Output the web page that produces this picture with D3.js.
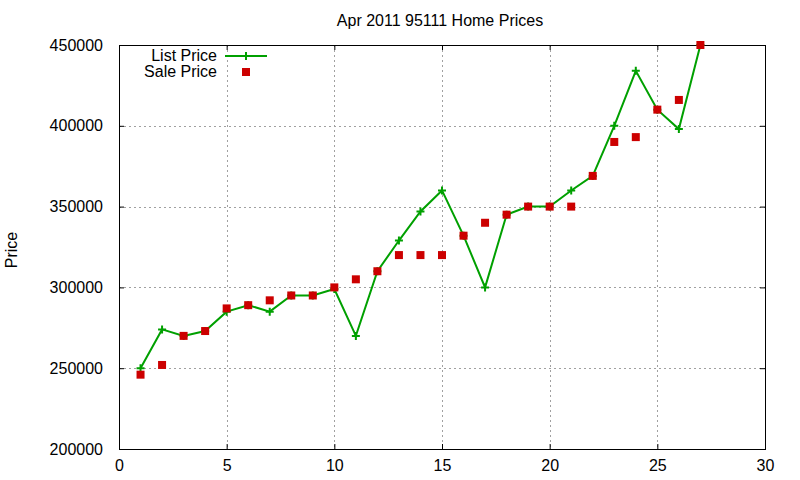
<!DOCTYPE html>
<html>
<head>
<meta charset="utf-8">
<script src="https://cdn.jsdelivr.net/npm/d3@7"></script>
<style>
  body { margin: 0; background: #fff; }
  text { font-family: "Liberation Sans", Arial, sans-serif; fill: #000; }
</style>
</head>
<body>
<div id="chart"></div>
<script>
// data
const days = [1, 2, 3, 4, 5, 6, 7, 8, 9, 10, 11, 12, 13, 14, 15, 16, 17, 18, 19, 20, 21, 22, 23, 24, 25, 26, 27];
const listPrice = [250000, 274000, 270000, 273000, 285000, 289000, 285000, 295000, 295000, 299000,
    270000, 310000, 329000, 347000, 360000, 332000, 300000, 345000, 350000, 350000,
    360000, 369000, 400000, 434000, 410000, 398000, 450000];
const salePrice = [246000, 252000, 270000, 273000, 287000, 289000, 292000, 295000, 295000, 300000,
    305000, 310000, 320000, 320000, 320000, 332000, 340000, 345000, 350000, 350000,
    350000, 369000, 390000, 393000, 410000, 416000, 450000];
const xTicks = [0, 5, 10, 15, 20, 25, 30];
const yTicks = [200000, 250000, 300000, 350000, 400000, 450000];

const W = 800, H = 480;
const margin = {left: 119, right: 35, top: 45, bottom: 31};

const svg = d3.select('#chart')
    .append('svg')
    .attr('width', W)
    .attr('height', H);

const x = d3.scaleLinear().domain([0, 30]).range([margin.left, W - margin.right]);
const y = d3.scaleLinear().domain([200000, 450000]).range([H - margin.bottom, margin.top]);

// grid
const grid = svg.append('g')
    .attr('stroke', '#a0a0a0')
    .attr('stroke-width', 1)
    .attr('stroke-dasharray', '2,3');
grid.selectAll('.gx')
    .data(xTicks.slice(1, -1))
    .join('line')
    .attr('x1', d => Math.round(x(d)) + 0.5)
    .attr('x2', d => Math.round(x(d)) + 0.5)
    .attr('y1', margin.top)
    .attr('y2', H - margin.bottom);
grid.selectAll('.gy')
    .data(yTicks.slice(1, -1))
    .join('line')
    .attr('x1', margin.left)
    .attr('x2', W - margin.right)
    .attr('y1', d => Math.round(y(d)) + 0.5)
    .attr('y2', d => Math.round(y(d)) + 0.5);

// axes, ticks inward and mirrored
const tickLen = -5;
svg.append('g')
    .attr('transform', `translate(0,${H - margin.bottom})`)
    .call(d3.axisBottom(x).tickValues(xTicks).tickSizeInner(tickLen).tickSizeOuter(0).tickPadding(11));
svg.append('g')
    .attr('transform', `translate(0,${margin.top})`)
    .call(d3.axisTop(x).tickValues(xTicks).tickSizeInner(tickLen).tickSizeOuter(0).tickFormat(''));
svg.append('g')
    .attr('transform', `translate(${margin.left},0)`)
    .call(d3.axisLeft(y).tickValues(yTicks).tickSizeInner(tickLen).tickSizeOuter(0).tickPadding(16).tickFormat(d3.format('d')));
svg.append('g')
    .attr('transform', `translate(${W - margin.right},0)`)
    .call(d3.axisRight(y).tickValues(yTicks).tickSizeInner(tickLen).tickSizeOuter(0).tickFormat(''));

svg.selectAll('.domain').remove();
svg.selectAll('.tick line').attr('stroke', '#000');
svg.selectAll('.tick text').attr('font-size', 16).attr('font-family', '"Liberation Sans", Arial, sans-serif');

svg.append('rect')
    .attr('x', margin.left + 0.5)
    .attr('y', margin.top + 0.5)
    .attr('width', W - margin.left - margin.right)
    .attr('height', H - margin.top - margin.bottom)
    .attr('fill', 'none')
    .attr('stroke', '#000')
    .attr('stroke-width', 1);

// list price line
const green = '#00a000', red = '#cc0000';
const listData = days.map((d, i) => [d, listPrice[i]]);
const saleData = days.map((d, i) => [d, salePrice[i]]);

svg.append('path')
    .datum(listData)
    .attr('fill', 'none')
    .attr('stroke', green)
    .attr('stroke-width', 2)
    .attr('d', d3.line().x(d => x(d[0])).y(d => y(d[1])));

const plus = (px, py) => `M${px - 4},${py}H${px + 4}M${px},${py - 4}V${py + 4}`;
svg.append('g')
    .selectAll('path')
    .data(listData)
    .join('path')
    .attr('stroke', green)
    .attr('stroke-width', 2)
    .attr('d', d => plus(x(d[0]), y(d[1])));

svg.append('g')
    .selectAll('rect')
    .data(saleData)
    .join('rect')
    .attr('fill', red)
    .attr('x', d => x(d[0]) - 4)
    .attr('y', d => y(d[1]) - 4)
    .attr('width', 8)
    .attr('height', 8);

// legend
const leg = svg.append('g');
leg.append('text').attr('x', 217).attr('y', 61).attr('text-anchor', 'end').attr('font-size', 16).text('List Price');
leg.append('line').attr('x1', 225).attr('x2', 267).attr('y1', 56).attr('y2', 56)
    .attr('stroke', green).attr('stroke-width', 2);
leg.append('path').attr('stroke', green).attr('stroke-width', 2).attr('d', plus(246, 56));
leg.append('text').attr('x', 217).attr('y', 77).attr('text-anchor', 'end').attr('font-size', 16).text('Sale Price');
leg.append('rect').attr('x', 242).attr('y', 68).attr('width', 8).attr('height', 8).attr('fill', red);

// title and axis label
svg.append('text')
    .attr('x', 440).attr('y', 26)
    .attr('text-anchor', 'middle')
    .attr('font-size', 16)
    .text('Apr 2011 95111 Home Prices');
svg.append('text')
    .attr('transform', 'translate(17,250) rotate(-90)')
    .attr('text-anchor', 'middle')
    .attr('font-size', 16)
    .text('Price');
</script>
</body>
</html>
